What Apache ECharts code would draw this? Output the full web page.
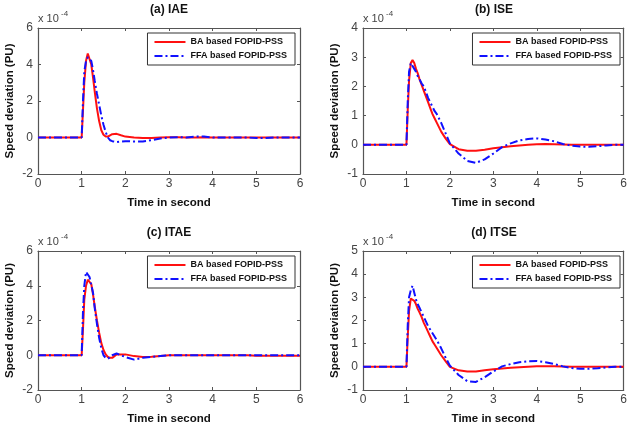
<!DOCTYPE html>
<html>
<head>
<meta charset="utf-8">
<script src="https://cdn.jsdelivr.net/npm/echarts@6/dist/echarts.min.js"></script>
<style>html,body{margin:0;padding:0;background:#fff}#c{width:630px;height:426px}</style>
</head>
<body>
<div id="c"></div>
<script>
// time in seconds
const time = [0, 0.5, 1.0, 1.03, 1.06, 1.1, 1.14, 1.18, 1.22, 1.26, 1.3, 1.35, 1.4, 1.45, 1.5, 1.55, 1.6, 1.65, 1.7, 1.8, 1.9, 2.0, 2.2, 2.4, 2.6, 2.8, 3.0, 3.2, 3.4, 3.6, 3.8, 4.0, 4.2, 4.4, 4.6, 4.8, 5.0, 5.2, 5.4, 5.6, 5.8, 6.0];
// speed deviation, units of 1e-4 PU
const iaeBA  = [0,0,0,1.5,3.0,4.2,4.6,4.5,4.0,3.3,2.5,1.6,0.9,0.4,0.15,0.05,0.05,0.12,0.18,0.2,0.12,0.05,0,-0.03,-0.03,0,0.02,0.02,0,0,0.02,0,0,0,0,0,0,0,0,0,0,0];
const iaeFFA = [0,0,0,2.0,3.6,4.2,4.4,4.5,4.2,3.7,3.1,2.4,1.8,1.2,0.7,0.3,0.0,-0.15,-0.2,-0.25,-0.22,-0.2,-0.22,-0.22,-0.15,-0.05,0,0.02,0,0.05,0.05,0,0,0,0,0,-0.03,-0.03,0,0,0,0];
const iseBA  = [0,0,0,1.2,2.2,2.8,2.9,2.8,2.6,2.45,2.25,2.05,1.85,1.65,1.45,1.25,1.05,0.9,0.75,0.45,0.22,0.02,-0.15,-0.2,-0.2,-0.17,-0.12,-0.08,-0.05,-0.02,0,0.02,0.03,0.02,0.01,0,0,0,0,0,0,0];
const iseFFA = [0,0,0,1.5,2.5,2.8,2.75,2.6,2.5,2.35,2.25,2.1,2.0,1.8,1.6,1.45,1.3,1.15,1.05,0.75,0.4,0.05,-0.3,-0.55,-0.62,-0.5,-0.3,-0.08,0.05,0.15,0.2,0.22,0.18,0.12,0.03,-0.03,-0.06,-0.07,-0.05,-0.02,0,0];
const itaeBA  = [0,0,0,1.5,3.2,4.0,4.35,4.4,4.1,3.5,2.8,2.0,1.3,0.7,0.3,0.05,-0.1,-0.15,-0.15,0.05,0.05,0.05,-0.05,-0.1,-0.08,-0.05,0,0,0,0,0,0,0,0,0,0,-0.03,-0.03,-0.03,-0.03,-0.03,-0.03];
const itaeFFA = [0,0,0,2.5,4.0,4.8,4.9,4.5,4.4,3.6,2.7,1.8,1.0,0.4,0.0,-0.15,-0.2,-0.1,0.0,0.1,0.0,-0.1,-0.25,-0.15,-0.1,-0.05,0,0,0,0,0,0,0,0,0,0,0,0,0,0,0,0];
const itseBA  = [0,0,0,1.3,2.4,2.95,3.0,2.85,2.7,2.5,2.35,2.15,1.9,1.7,1.5,1.3,1.1,0.95,0.8,0.5,0.25,0.0,-0.15,-0.2,-0.2,-0.15,-0.1,-0.07,-0.04,-0.02,0,0.02,0.02,0.02,0.01,0,0,0,0,0,0,0];
const itseFFA = [0,0,0,1.8,3.0,3.3,3.5,3.2,2.9,2.7,2.55,2.35,2.15,1.95,1.75,1.6,1.45,1.3,1.15,0.8,0.4,0.05,-0.35,-0.62,-0.65,-0.45,-0.2,0.02,0.12,0.2,0.24,0.25,0.2,0.12,0.02,-0.05,-0.08,-0.08,-0.06,-0.03,0,0];

const panelTitles = ['(a) IAE', '(b) ISE', '(c) ITAE', '(d) ITSE'];
const seriesNames = ['BA based FOPID-PSS', 'FFA based FOPID-PSS'];
const yMin = [-2, -1, -2, -1];
const yMax = [6, 4, 6, 5];
const yStep = [2, 1, 2, 1];
const xMin = 0, xMax = 6, xStep = 1;
const panelData = [[iaeBA, iaeFFA], [iseBA, iseFFA], [itaeBA, itaeFFA], [itseBA, itseFFA]];
const xName = 'Time in second';
const yName = 'Speed deviation (PU)';
const expText = 'x 10', expSup = '-4';

// layout
const grids = [
  {left: 38, top: 28, width: 262, height: 146},
  {left: 363, top: 28, width: 262, height: 146},
  {left: 38, top: 251, width: 262, height: 145},
  {left: 363, top: 251, width: 262, height: 145}
];
const FONT = 'Liberation Sans, Arial, sans-serif';
const AX = '#555';
const LBL = '#444';
const colors = ['#ff1010', '#1010ff'];
const lineTypes = ['solid', [8, 3, 2, 3]];

const xAxis = [], yAxis = [], series = [], legend = [], graphic = [];
grids.forEach((g, i) => {
  const common = {gridIndex: i, splitLine: {show: false},
    axisLine: {show: true, onZero: false, lineStyle: {color: AX, width: 1.2}},
    axisTick: {show: true, inside: true, length: 3, lineStyle: {color: AX}}};
  xAxis.push(Object.assign({}, common, {type: 'value', min: xMin, max: xMax, interval: xStep, position: 'bottom',
    axisLabel: {color: LBL, fontSize: 12, fontFamily: FONT, margin: 4},
    name: xName, nameLocation: 'middle', nameGap: 23,
    nameTextStyle: {color: '#111', fontSize: 11.5, fontWeight: 'bold', fontFamily: FONT}}));
  xAxis.push(Object.assign({}, common, {type: 'value', min: xMin, max: xMax, interval: xStep, position: 'top',
    axisLabel: {show: false}}));
  yAxis.push(Object.assign({}, common, {type: 'value', min: yMin[i], max: yMax[i], interval: yStep[i], position: 'left',
    axisLabel: {color: LBL, fontSize: 12, fontFamily: FONT, margin: 5},
    name: yName, nameLocation: 'middle', nameGap: 22, nameRotate: 90,
    nameTextStyle: {color: '#111', fontSize: 11.5, fontWeight: 'bold', fontFamily: FONT}}));
  yAxis.push(Object.assign({}, common, {type: 'value', min: yMin[i], max: yMax[i], interval: yStep[i], position: 'right',
    axisLabel: {show: false}}));
  panelData[i].forEach((arr, k) => {
    series.push({
      type: 'line', name: seriesNames[k], xAxisIndex: 2 * i, yAxisIndex: 2 * i,
      data: time.map((t, j) => [t, arr[j]]),
      symbol: 'none', animation: false,
      lineStyle: {color: colors[k], width: 2, type: lineTypes[k]},
      itemStyle: {color: colors[k]}
    });
  });
  legend.push({
    data: seriesNames, orient: 'vertical',
    right: 630 - (g.left + g.width) + 5, top: g.top + 5,
    itemWidth: 31, itemHeight: 10, itemGap: 2,
    padding: [3, 8, 3, 6],
    borderColor: '#333', borderWidth: 1, backgroundColor: '#fff',
    itemStyle: {opacity: 0},
    textStyle: {color: '#111', fontSize: 9, fontWeight: 'bold', fontFamily: FONT, lineHeight: 12},
    selectedMode: false
  });
  graphic.push({type: 'text', x: g.left + g.width / 2, y: g.top - 18,
    style: {text: panelTitles[i], font: 'bold 12px ' + FONT, fill: '#111', align: 'center', verticalAlign: 'middle'}});
  graphic.push({type: 'text', x: g.left, y: g.top - 9,
    style: {text: expText, font: '11px ' + FONT, fill: LBL, align: 'left', verticalAlign: 'middle'}});
  graphic.push({type: 'text', x: g.left + 23, y: g.top - 14,
    style: {text: expSup, font: '8px ' + FONT, fill: LBL, align: 'left', verticalAlign: 'middle'}});
});

const chart = echarts.init(document.getElementById('c'), null, {renderer: 'canvas'});
chart.setOption({
  backgroundColor: '#fff',
  animation: false,
  grid: grids.map(g => Object.assign({containLabel: false}, g)),
  xAxis, yAxis, series, legend, graphic
});
</script>
</body>
</html>
